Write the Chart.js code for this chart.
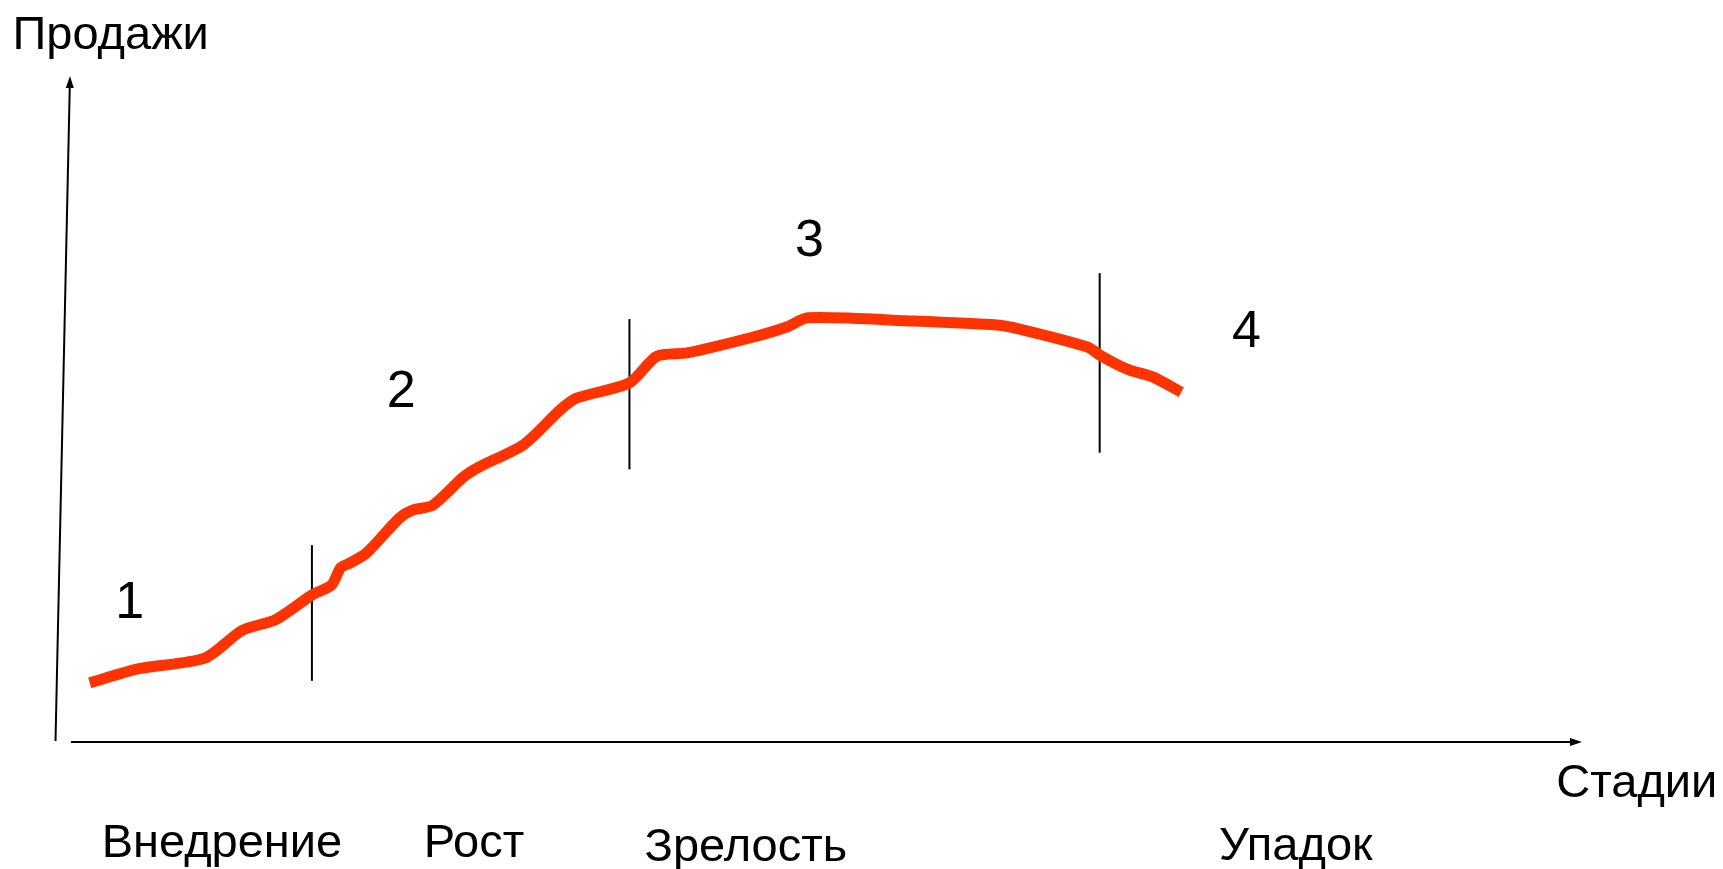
<!DOCTYPE html>
<html lang="ru">
<head>
<meta charset="utf-8">
<title>Жизненный цикл товара</title>
<script src="https://cdn.jsdelivr.net/npm/chart.js@4/dist/chart.umd.min.js"></script>
<style>
  html, body { margin: 0; padding: 0; background: #ffffff; }
  canvas { display: block; }
</style>
</head>
<body>
<canvas id="lifecycle" width="1723" height="869"></canvas>
<script>
// Product life cycle: time (0..100) against sales (0..100)
const timeValues  = [1.3, 4.5, 8.9, 11.4, 13.6, 16.0, 17.3, 17.9, 18.5, 19.6, 21.8, 22.7, 24.0,
                     26.0, 27.1, 30.0, 32.4, 33.5, 37.0, 38.8, 40.8, 45.2, 47.4, 48.8, 55.8, 61.3,
                     62.8, 67.3, 68.1, 69.3, 70.1, 71.6, 73.5];
const salesValues = [8.9, 11.0, 12.6, 16.8, 18.4, 22.1, 23.6, 26.2, 26.9, 28.4, 33.7, 34.9, 35.6,
                     39.8, 41.4, 44.7, 49.9, 51.7, 54.0, 58.0, 58.5, 60.9, 62.4, 63.8, 63.3, 62.7,
                     62.1, 59.4, 58.2, 56.7, 55.9, 54.9, 52.6];

// Stage boundaries (time) and the sales span each divider covers
const boundaryAt   = [16.0, 37.0, 68.1];
const boundaryFrom = [9.2, 41.0, 43.5];
const boundaryTo   = [29.6, 63.6, 70.5];

// Stage captions
const stageNames   = ['Внедрение', 'Рост', 'Зрелость', 'Упадок'];
const stageNameAt  = [2.1, 23.4, 38.0, 76.0];
const stageNumbers = ['1', '2', '3', '4'];
const numberAtX    = [3.95, 21.9, 48.9, 77.8];
const numberAtY    = [18.7, 50.4, 73.1, 59.4];

const yAxisTitle = 'Продажи';
const xAxisTitle = 'Стадии';

const curve = timeValues.map((t, i) => ({ x: t, y: salesValues[i] }));

const dividerSets = boundaryAt.map((t, i) => ({
  data: [{ x: t, y: boundaryFrom[i] }, { x: t, y: boundaryTo[i] }],
  borderColor: '#000000',
  borderWidth: 2,
  pointRadius: 0,
  tension: 0,
  clip: false
}));

function arrowHead(ctx, fromX, fromY, toX, toY, len, half) {
  const a = Math.atan2(toY - fromY, toX - fromX);
  ctx.beginPath();
  ctx.moveTo(toX, toY);
  ctx.lineTo(toX - len * Math.cos(a) + half * Math.sin(a), toY - len * Math.sin(a) - half * Math.cos(a));
  ctx.lineTo(toX - len * Math.cos(a) - half * Math.sin(a), toY - len * Math.sin(a) + half * Math.cos(a));
  ctx.closePath();
  ctx.fill();
}

// Hand-drawn style axes with arrows, and all captions
const sketchAxes = {
  id: 'sketchAxes',
  beforeDatasetsDraw(chart) {
    const { ctx, chartArea: a } = chart;
    ctx.save();
    ctx.strokeStyle = '#000000';
    ctx.fillStyle = '#000000';
    ctx.lineWidth = 2;
    // horizontal axis
    ctx.beginPath();
    ctx.moveTo(a.left + 1, a.bottom);
    ctx.lineTo(a.right - 8, a.bottom);
    ctx.stroke();
    arrowHead(ctx, a.left, a.bottom, a.right, a.bottom, 12, 4);
    // vertical axis, slightly leaning
    const bx = a.left - 14.5, by = a.bottom - 1;
    ctx.beginPath();
    ctx.moveTo(bx, by);
    ctx.lineTo(a.left - 0.2, a.top + 8);
    ctx.stroke();
    arrowHead(ctx, bx, by, a.left, a.top - 1, 12, 4);
    ctx.restore();
  },
  afterDatasetsDraw(chart) {
    const { ctx } = chart;
    const xs = chart.scales.x, ys = chart.scales.y;
    ctx.save();
    ctx.fillStyle = '#000000';
    ctx.textBaseline = 'alphabetic';

    ctx.font = '47px "Liberation Sans", Arial, sans-serif';
    ctx.textAlign = 'left';
    ctx.fillText(yAxisTitle, xs.getPixelForValue(-3.8), ys.getPixelForValue(104.2));
    ctx.fillText(xAxisTitle, xs.getPixelForValue(98.3), ys.getPixelForValue(-8.3));

    const nameBase = [-17.3, -17.3, -17.9, -17.7];
    stageNames.forEach((s, i) => {
      ctx.fillText(s, xs.getPixelForValue(stageNameAt[i]), ys.getPixelForValue(nameBase[i]));
    });

    ctx.font = '52px "Liberation Sans", Arial, sans-serif';
    ctx.textAlign = 'center';
    stageNumbers.forEach((s, i) => {
      ctx.fillText(s, xs.getPixelForValue(numberAtX[i]), ys.getPixelForValue(numberAtY[i]));
    });
    ctx.restore();
  }
};

new Chart(document.getElementById('lifecycle'), {
  type: 'line',
  data: {
    datasets: [
      {
        data: curve,
        borderColor: '#ff3300',
        borderWidth: 11,
        borderCapStyle: 'butt',
        borderJoinStyle: 'round',
        pointRadius: 0,
        tension: 0.25,
        clip: false
      },
      ...dividerSets
    ]
  },
  options: {
    responsive: false,
    devicePixelRatio: 1,
    animation: false,
    events: [],
    layout: { padding: { left: 70, top: 77, right: 141, bottom: 127 } },
    scales: {
      x: { type: 'linear', min: 0, max: 100, display: false },
      y: { type: 'linear', min: 0, max: 100, display: false }
    },
    plugins: {
      legend: { display: false },
      tooltip: { enabled: false },
      title: { display: false }
    }
  },
  plugins: [sketchAxes]
});
</script>
</body>
</html>
